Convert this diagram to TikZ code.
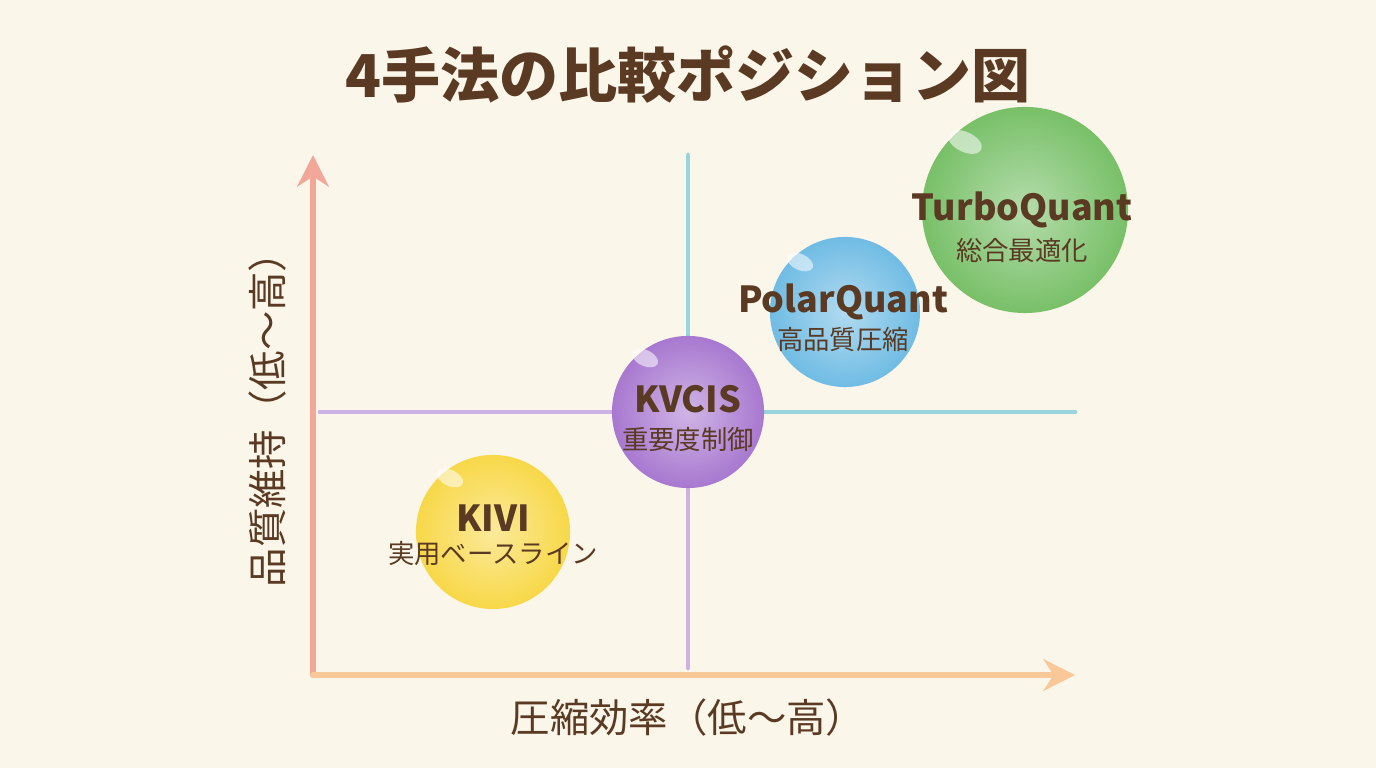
\documentclass[tikz,border=0pt]{standalone}
\usepackage{fontspec}
\setmainfont{Noto Sans CJK JP}
\usetikzlibrary{arrows.meta,positioning}
\definecolor{bg}{HTML}{FBF6EA}
\definecolor{ink}{HTML}{5A3A22}
\definecolor{axisY}{HTML}{F2A898}
\definecolor{axisX}{HTML}{F8C898}
\definecolor{lineT}{HTML}{98D4DC}
\definecolor{lineP}{HTML}{CDB0E4}
\definecolor{cYellow}{HTML}{F8D848}
\definecolor{cPurple}{HTML}{A878D0}
\definecolor{cBlue}{HTML}{70BCE4}
\definecolor{cGreen}{HTML}{78C068}
\tikzset{
	axis/.style={line width=1.6pt, line cap=round, -{Stealth[length=9pt,width=9pt]}},
	guide/.style={line width=1.3pt, line cap=round},
	bubble/.style={circle, inner sep=0pt,
		inner color=#1!55!white, outer color=#1},
	gloss/.style={fill=white, fill opacity=0.55, draw=none},
	methodname/.style={font=\bfseries\fontsize{10.2}{11}\selectfont, text=ink, inner sep=0pt},
	methodsub/.style={font=\fontsize{7.5}{9}\selectfont, text=ink, inner sep=0pt}
}
\begin{document}
\begin{tikzpicture}[x=0.01cm,y=-0.01cm]
\fill[bg] (0,0) rectangle (1376,768);
\node[font=\bfseries\fontsize{16.8}{18}\selectfont, text=ink] (title) at (688,75) {4手法の比較ポジション図};
% axes
\coordinate (origin) at (313,675);
\coordinate (ytop) at (313,155);
\coordinate (xend) at (1075,675);
\coordinate (vtop) at (688,155);
\coordinate (vbot) at (688,668);
\coordinate (hleft) at (320,412);
\coordinate (hmid) at (688,412);
\coordinate (hright) at (1075,412);
\draw[guide, lineP] (hleft) -- (hmid);
\draw[guide, lineT] (hmid) -- (hright);
\draw[guide, lineT] (vtop) -- (hmid);
\draw[guide, lineP] (hmid) -- (vbot);
\draw[axis, axisY] (origin) -- (ytop);
\draw[axis, axisX] (origin) -- (xend);
\node[rotate=90, font=\fontsize{11.2}{12}\selectfont, text=ink] (ylabel) at (268,410) {品質維持（低～高）};
\node[font=\fontsize{11.2}{12}\selectfont, text=ink] (xlabel) at (688,718) {圧縮効率（低～高）};
% bubbles
\node[bubble=cYellow, minimum size=1.54cm] (kivi) at (493,532) {};
\node[bubble=cPurple, minimum size=1.52cm] (kvcis) at (688,412) {};
\node[bubble=cBlue, minimum size=1.50cm] (polar) at (845,312) {};
\node[bubble=cGreen, minimum size=2.06cm] (turbo) at (1025,210) {};
\fill[gloss, rotate around={-25:(450,478)}] (450,478) ellipse (14 and 8);
\fill[gloss, rotate around={-25:(645,358)}] (645,358) ellipse (14 and 8);
\fill[gloss, rotate around={-25:(800,262)}] (800,262) ellipse (14 and 8);
\fill[gloss, rotate around={-25:(965,142)}] (965,142) ellipse (18 and 10);
% labels
\node[methodname] (kiviN) at (493,518) {KIVI};
\node[methodsub] (kiviS) at (493,554) {実用ベースライン};
\node[methodname] (kvcisN) at (688,399) {KVCIS};
\node[methodsub] (kvcisS) at (688,440) {重要度制御};
\node[methodname] (polarN) at (843,302) {PolarQuant};
\node[methodsub] (polarS) at (843,340) {高品質圧縮};
\node[methodname] (turboN) at (1022,210) {TurboQuant};
\node[methodsub] (turboS) at (1022,250) {総合最適化};
\end{tikzpicture}
\end{document}
